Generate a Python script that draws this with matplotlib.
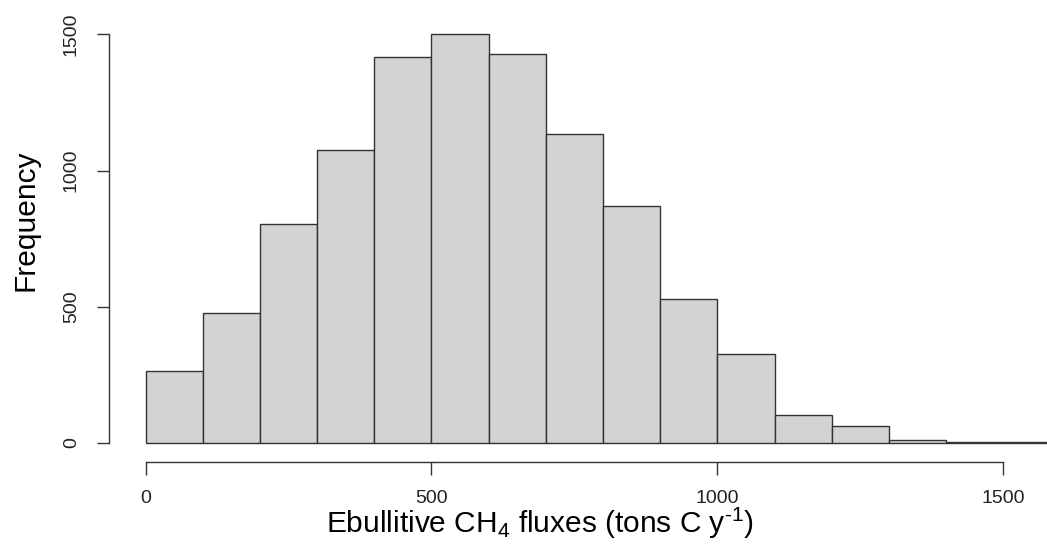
import matplotlib.pyplot as plt
import numpy as np

plt.rcParams['font.family'] = ['Liberation Sans', 'DejaVu Sans']
plt.rcParams['mathtext.fontset'] = 'custom'
plt.rcParams['mathtext.rm'] = 'Liberation Sans'
plt.rcParams['mathtext.it'] = 'Liberation Sans:italic'

# histogram bins (tons C / y) and counts
bin_edges = [0, 100, 200, 300, 400, 500, 600, 700, 800, 900, 1000,
             1100, 1200, 1300, 1400, 1500, 1600]
counts = [265, 478, 805, 1077, 1419, 1502, 1430, 1136, 868, 529, 324,
          103, 62, 8, 3, 1]

x_ticks = [0, 500, 1000, 1500]
y_ticks = [0, 500, 1000, 1500]

W, H = 1047, 547
fig = plt.figure(figsize=(W / 100, H / 100), dpi=100)
ax = fig.add_axes([109 / W, 88 / H, (1097 - 109) / W, (459 - 17.6) / H])

edges = np.array(bin_edges)
ax.bar(edges[:-1], counts, width=np.diff(edges), align='edge',
       color='#d3d3d3', edgecolor='#333333', linewidth=1.0)

ymax = max(counts)
ax.set_xlim(-0.04 * 1600, 1600 * 1.04)
ax.set_ylim(-0.04 * ymax, ymax * 1.04)

for s in ['top', 'right']:
    ax.spines[s].set_visible(False)
for s in ['left', 'bottom']:
    ax.spines[s].set_color('#333333')
    ax.spines[s].set_linewidth(1.0)
ax.spines['left'].set_bounds(0, 1500)
ax.spines['bottom'].set_bounds(0, 1500)
ax.spines['bottom'].set_position(('outward', 2))

ax.set_xticks(x_ticks)
ax.set_yticks(y_ticks)
ax.set_yticklabels([str(v) for v in y_ticks], rotation=90, va='center')
ax.tick_params(axis='both', length=9, width=1.0, color='#333333',
               labelsize=14, labelcolor='#222222')
ax.tick_params(axis='x', pad=11)
ax.tick_params(axis='y', pad=12)

fig.text(540 / W, 1 - 523 / H,
         r'Ebullitive CH$_\mathregular{4}$ fluxes (tons C y$^\mathregular{\text{-}1}$)',
         ha='center', va='center', fontsize=21.5, color='black')
fig.text(25 / W, 1 - 220 / H, 'Frequency', rotation=90,
         ha='center', va='center', fontsize=21.5, color='black')

fig.savefig('out.png', dpi=100)
